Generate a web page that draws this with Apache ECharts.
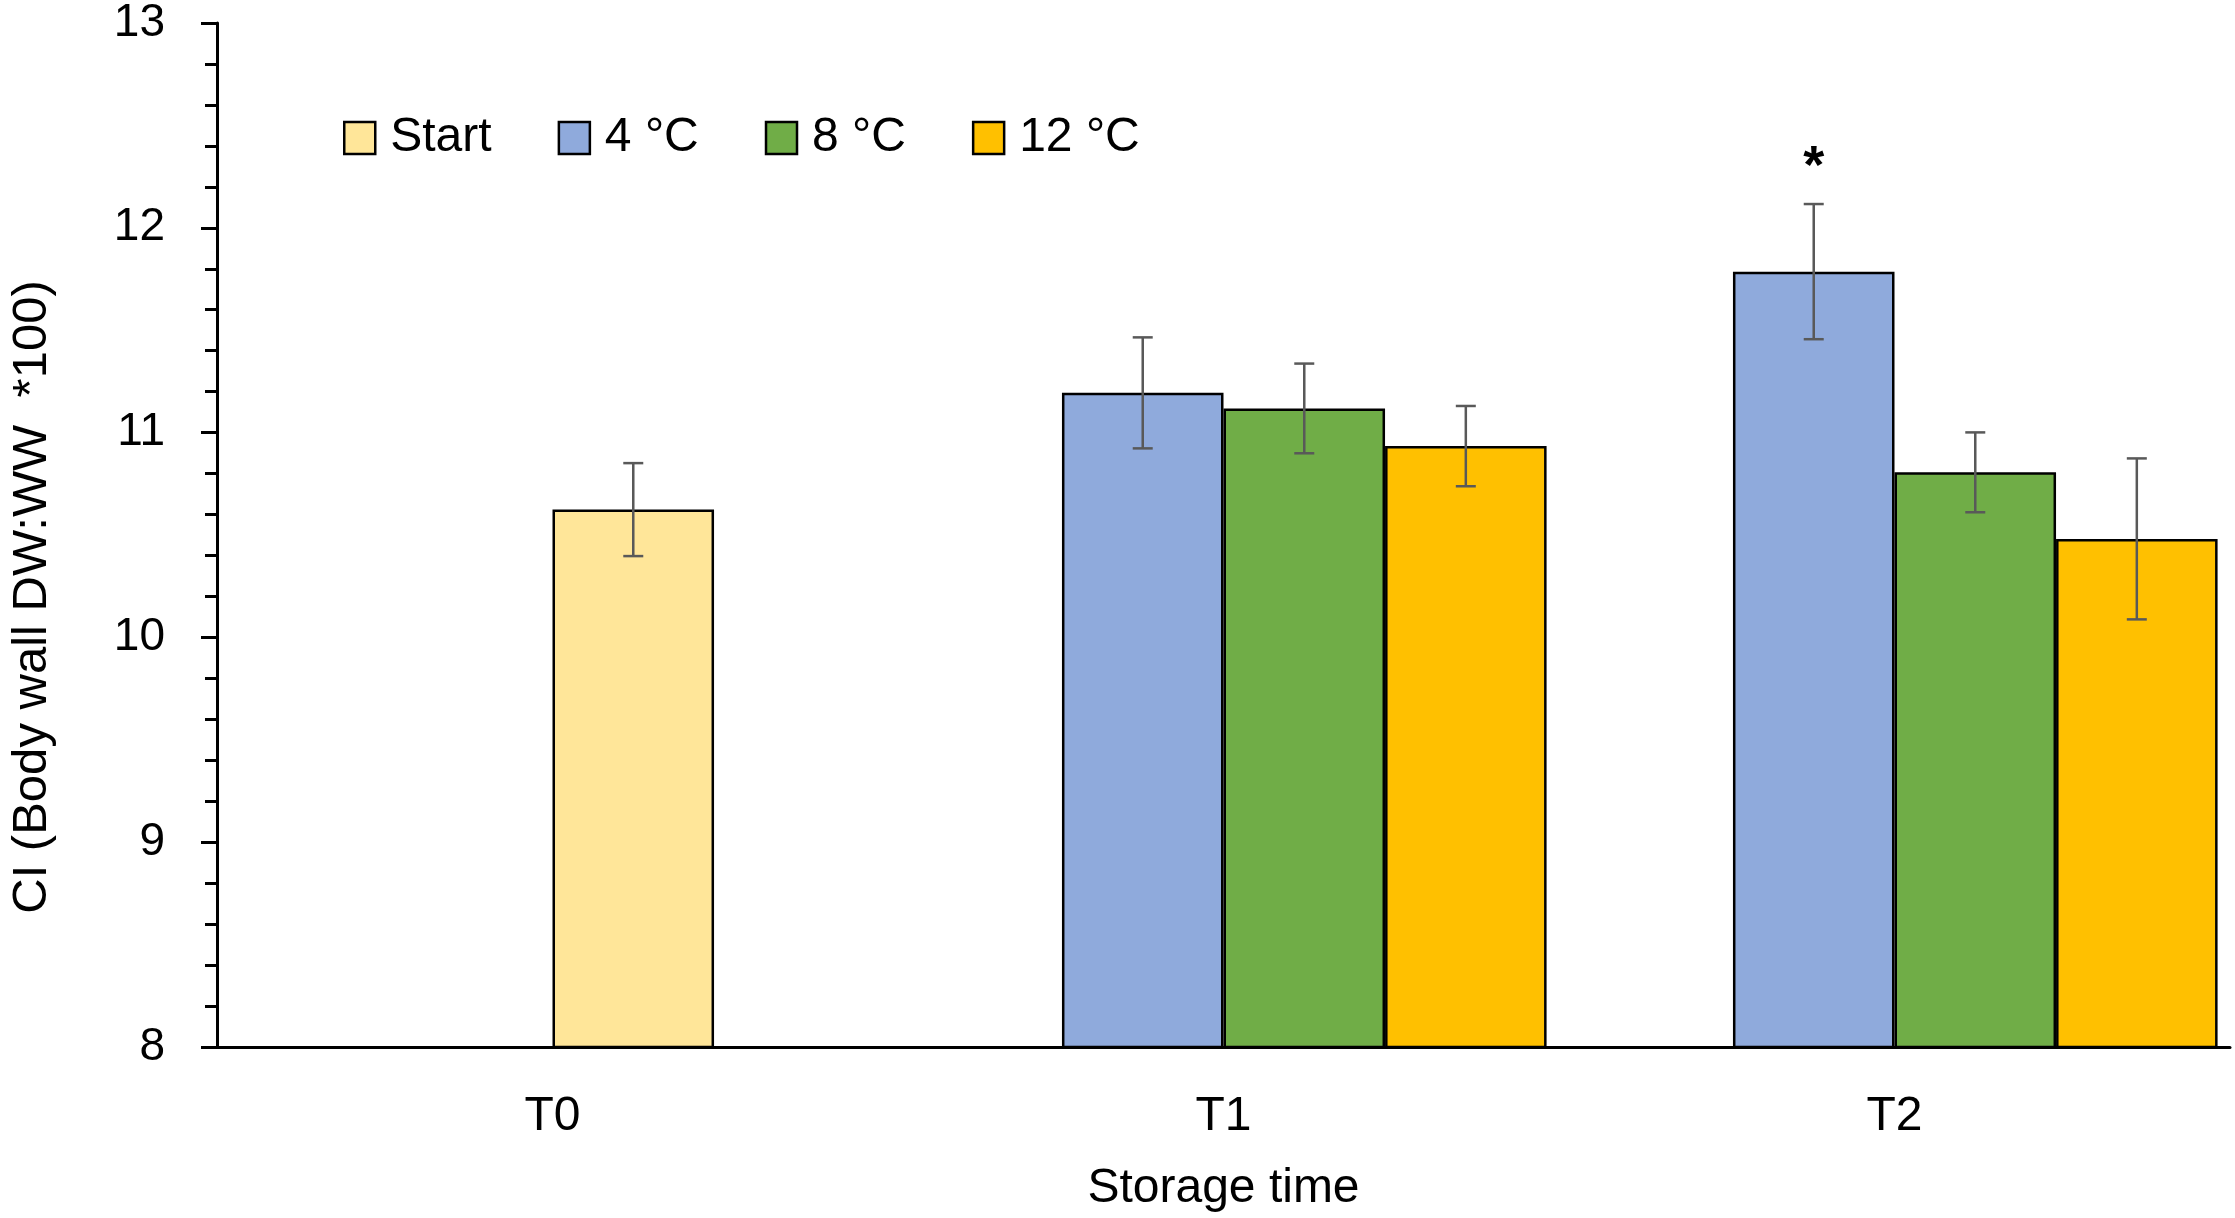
<!DOCTYPE html>
<html>
<head>
<meta charset="utf-8">
<script src="https://cdn.jsdelivr.net/npm/echarts@6/dist/echarts.min.js"></script>
<style>
html,body{margin:0;padding:0;background:#fff;}
#chart{width:2235px;height:1218px;}
</style>
</head>
<body>
<div id="chart"></div>
<script>
// ---- data ----
const categories = ['T0', 'T1', 'T2'];
const seriesNames = ['Start', '4 °C', '8 °C', '12 °C'];
const startVals = [8, null, null];
const startErr  = [null, null, null];
const c4Vals  = [null, 11.194, 11.786];
const c4Err   = [null, 0.271, 0.330];
const c8Vals  = [10.624, 11.118, 10.806];
const c8Err   = [0.227, 0.219, 0.195];
const c12Vals = [null, 10.934, 10.481];
const c12Err  = [null, 0.196, 0.393];
const c4Sig   = ['', '', '*'];
const yTicks = { min: 8, max: 13, interval: 1 };

// ---- styles ----
const colors = ['#FFE699', '#8FAADC', '#70AD47', '#FFC000'];
const FONT = 'Liberation Sans';
const CAT_GAP = 0.037;

const valsList = [startVals, c4Vals, c8Vals, c12Vals];
const errList = [startErr, c4Err, c8Err, c12Err];
const sigList = [null, c4Sig, null, null];

const barSeries = seriesNames.map((name, k) => ({
  name: name,
  type: 'bar',
  barGap: '0%',
  barCategoryGap: (CAT_GAP * 100) + '%',
  itemStyle: { color: colors[k], borderColor: '#000', borderWidth: 2.5 },
  data: valsList[k].map((v, i) => {
    if (v == null) return null;
    // T0 bar in the 8 °C slot is drawn in the "Start" colour
    if (k === 2 && i === 0) return { value: v, itemStyle: { color: colors[0] } };
    return v;
  }),
  z: 2
}));

const errSeries = seriesNames.map((name, k) => ({
  type: 'custom',
  coordinateSystem: 'cartesian2d',
  silent: true,
  z: 5,
  encode: { x: 0, y: 1 },
  data: valsList[k].map((v, i) => [i, v, errList[k][i]]).filter(d => d[1] != null && d[2] != null),
  renderItem: function (params, api) {
    const ci = api.value(0), v = api.value(1), e = api.value(2);
    const base = api.coord([ci, v]);
    const bandW = api.size([1, 0])[0];
    const bw = bandW * (1 - CAT_GAP) / 4;
    const x = base[0] + (k - 1.5) * bw;
    const hi = api.coord([ci, v + e])[1];
    const lo = api.coord([ci, v - e])[1];
    const cap = 10;
    const st = { stroke: '#595959', lineWidth: 2.5 };
    const children = [
      { type: 'line', shape: { x1: x, y1: hi, x2: x, y2: lo }, style: st },
      { type: 'line', shape: { x1: x - cap, y1: hi, x2: x + cap, y2: hi }, style: st },
      { type: 'line', shape: { x1: x - cap, y1: lo, x2: x + cap, y2: lo }, style: st }
    ];
    const sig = sigList[k] ? sigList[k][ci] : '';
    if (sig) {
      children.push({
        type: 'text',
        style: { text: sig, x: x, y: hi - 36, align: 'center', verticalAlign: 'middle',
                 fill: '#000', font: 'bold 54px "' + FONT + '"' }
      });
    }
    return { type: 'group', children: children };
  }
}));

const chart = echarts.init(document.getElementById('chart'), null, { renderer: 'canvas' });
chart.setOption({
  backgroundColor: '#fff',
  animation: false,
  textStyle: { fontFamily: FONT, color: '#000' },
  grid: { left: 213, right: 5, top: 23, bottom: 171, containLabel: false },
  legend: {
    data: seriesNames,
    left: 338,
    top: 109,
    icon: 'rect',
    itemWidth: 31,
    itemHeight: 32,
    itemGap: 66,
    itemStyle: { borderColor: '#000', borderWidth: 2.5 },
    textStyle: { fontFamily: FONT, fontSize: 48, color: '#000', padding: [0, 0, 0, 10] },
    selectedMode: false
  },
  xAxis: {
    type: 'category',
    data: categories,
    name: 'Storage time',
    nameLocation: 'middle',
    nameGap: 118,
    nameTextStyle: { fontFamily: FONT, fontSize: 48, color: '#000' },
    axisLine: { lineStyle: { color: '#000', width: 3 } },
    axisTick: { show: false },
    axisLabel: { fontFamily: FONT, fontSize: 48, color: '#000', margin: 46 },
    splitLine: { show: false }
  },
  yAxis: {
    type: 'value',
    min: yTicks.min,
    max: yTicks.max,
    interval: yTicks.interval,
    name: 'CI (Body wall DW:WW  *100)',
    nameLocation: 'middle',
    nameGap: 160,
    nameTextStyle: { fontFamily: FONT, fontSize: 49, color: '#000', padding: [0, 124, 0, 0] },
    axisLine: { show: true, lineStyle: { color: '#000', width: 3 } },
    axisTick: { show: true, length: 16, lineStyle: { color: '#000', width: 3 } },
    minorTick: { show: true, splitNumber: 5, length: 12, lineStyle: { color: '#000', width: 3 } },
    axisLabel: { fontFamily: FONT, fontSize: 46, color: '#000', margin: 52 },
    splitLine: { show: false }
  },
  series: barSeries.concat(errSeries)
});
</script>
</body>
</html>
